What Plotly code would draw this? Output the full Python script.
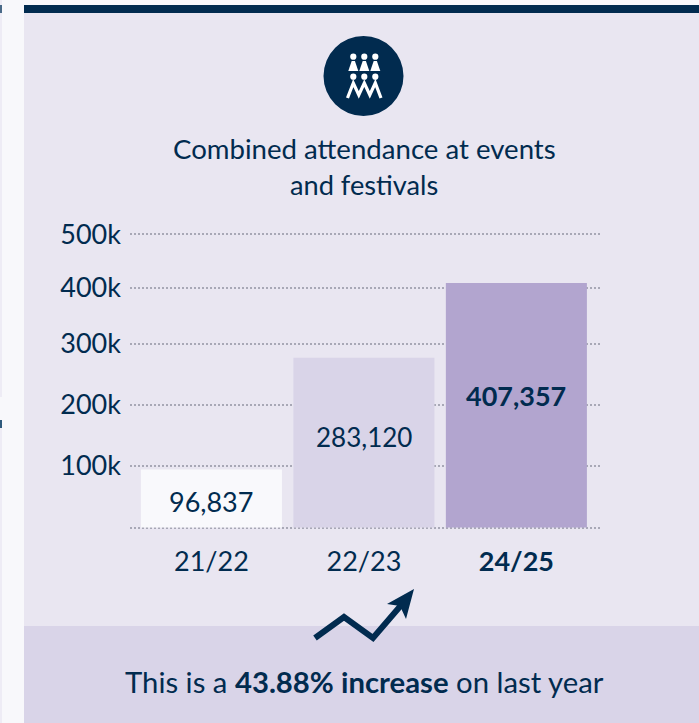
import plotly.graph_objects as go

W, H = 699, 723
NAVY = "#012b4f"
PANEL = "#e9e6f1"
BAND = "#d9d4e8"
PAGE = "#f8f8fb"
FONT = "Lato"

# data
seasons = ["21/22", "22/23", "<b>24/25</b>"]
attendance = [96837, 283120, 407357]
bar_labels = ["96,837", "283,120", "<b>407,357</b>"]
label_shift = [-3, 6, 10]
label_sizes = [27, 26, 27]
bar_colors = ["#f9f9fc", "#d9d4e8", "#b2a5cf"]
tick_positions = [0, 103000, 204700, 305800, 400000, 489000]
tick_labels = ["", "100k", "200k", "300k", "400k", "500k"]


def px(x):
    return x / W


def py(y):
    return 1 - y / H


def rect(x0, y0, x1, y1, color):
    return dict(type="rect", xref="paper", yref="paper", x0=px(x0), x1=px(x1),
                y0=py(y0), y1=py(y1), fillcolor=color, line_width=0, layer="below")


def path(points, fill=None, stroke=None, width=0, close=True):
    d = "M" + " L".join(f"{px(a):.5f},{py(b):.5f}" for a, b in points) + (" Z" if close else "")
    return dict(type="path", xref="paper", yref="paper", path=d, layer="above",
                fillcolor=fill if fill else "rgba(0,0,0,0)",
                line=dict(color=stroke if stroke else "rgba(0,0,0,0)", width=width))


def circle(cx, cy, r, color):
    return dict(type="circle", xref="paper", yref="paper", x0=px(cx - r), x1=px(cx + r),
                y0=py(cy + r), y1=py(cy - r), fillcolor=color, line_width=0, layer="above")


shapes = [
    rect(0, 0, 2, 397, "#eeecf5"),
    rect(0, 428, 2, H, "#eeecf5"),
    rect(0, 5, 2, 13, "#4a6a88"),
    rect(0, 420, 2, 428, "#2f5a7c"),
    rect(24, 13, W, H, PANEL),
    rect(24, 5, W, 13, NAVY),
    rect(24, 626, W, H, BAND),
    circle(363.5, 76, 40, NAVY),
]
# icon: top row of figures
for hx in (353.3, 364.3, 375.3):
    shapes.append(circle(hx, 56.7, 3.1, "white"))
    shapes.append(path([(hx - 1.6, 61), (hx + 1.6, 61), (hx + 5, 71), (hx - 5, 71)], fill="white"))
# icon: bottom row of figures
for hx in (353.3, 364.3, 375.3):
    shapes.append(circle(hx, 76.7, 3.1, "white"))
shapes.append(path([(347.5, 98), (353.3, 83), (358.8, 95), (364.3, 83), (369.8, 95),
                    (375.3, 83), (381, 98)], stroke="white", width=3.2, close=False))
# trend arrow
shapes.append(path([(315, 638), (344, 617), (373, 638), (403, 603)], stroke=NAVY, width=6, close=False))
shapes.append(path([(387, 604), (414, 589), (406, 619), (400, 606)], fill=NAVY))

fig = go.Figure(go.Bar(
    x=seasons, y=attendance, marker=dict(color=bar_colors, line_width=0),
    width=0.925, hoverinfo="skip",
))

annotations = [
    dict(xref="paper", yref="paper", x=px(364), y=py(149), text="Combined attendance at events",
         showarrow=False, xanchor="center", yanchor="middle", font=dict(size=27.6, color=NAVY, family=FONT)),
    dict(xref="paper", yref="paper", x=px(364), y=py(184), text="and festivals",
         showarrow=False, xanchor="center", yanchor="middle", font=dict(size=27.2, color=NAVY, family=FONT)),
    dict(xref="paper", yref="paper", x=px(364), y=py(681),
         text="This is a <b>43.88% increase</b> on last year",
         showarrow=False, xanchor="center", yanchor="middle", font=dict(size=29.3, color=NAVY, family=FONT)),
]
for s, v, t, dy, fs in zip(seasons, attendance, bar_labels, label_shift, label_sizes):
    annotations.append(dict(xref="x", yref="y", x=s, y=v / 2, text=t, showarrow=False,
                            yshift=dy, xanchor="center", yanchor="middle",
                            font=dict(size=fs, color=NAVY, family=FONT)))

fig.update_layout(
    width=W, height=H, autosize=False,
    margin=dict(l=0, r=0, t=0, b=0, pad=0),
    paper_bgcolor=PAGE, plot_bgcolor="rgba(0,0,0,0)",
    showlegend=False, shapes=shapes, annotations=annotations,
    font=dict(family=FONT, color=NAVY, size=27),
    xaxis=dict(domain=[px(130), px(601)], type="category", categoryorder="array", automargin=False,
               categoryarray=seasons, range=[-0.534, 2.555], showgrid=False, zeroline=False,
               showline=False, ticks="", ticklabelstandoff=12,
               tickfont=dict(size=27, color=NAVY, family=FONT)),
    yaxis=dict(domain=[py(530.5), py(230.5)], range=[-5000, 495000], tickmode="array", automargin=False,
               tickvals=tick_positions, ticktext=tick_labels, showgrid=True,
               griddash="2px,2px", gridcolor="#a8a8b6", gridwidth=1.5, zeroline=False,
               showline=False, ticks="", ticklabelstandoff=8,
               tickfont=dict(size=27, color=NAVY, family=FONT)),
)

fig.write_html("out.html", config=dict(displayModeBar=False),
               post_script="document.body.style.margin='0';document.body.style.overflow='hidden';")
